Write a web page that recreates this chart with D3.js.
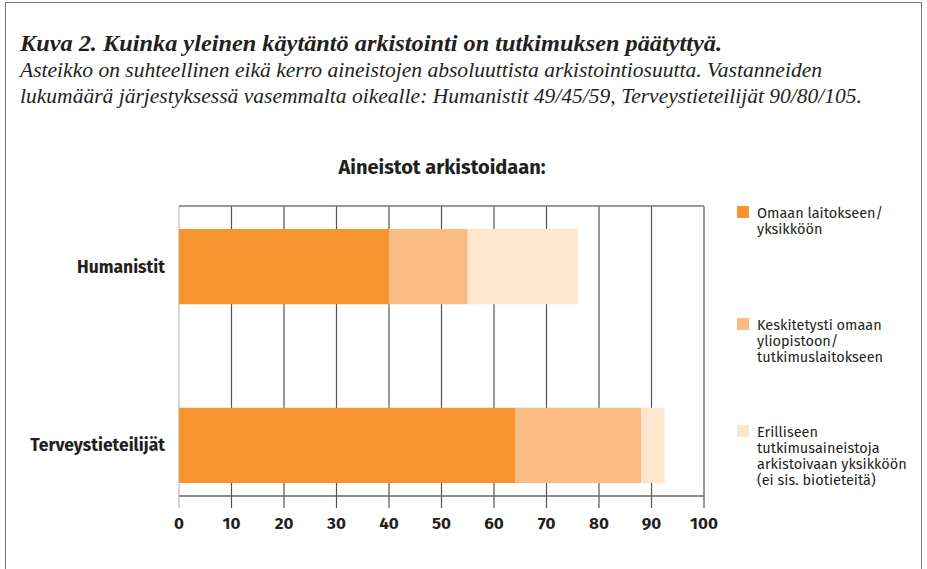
<!DOCTYPE html>
<html>
<head>
<meta charset="utf-8">
<script src="https://cdn.jsdelivr.net/npm/d3@7"></script>
<style>
  body { margin: 0; background: #fff; }
  svg { display: block; }
</style>
</head>
<body>
<div id="chart"></div>
<script>
// data (percent, stacked)
let groups = ['Humanistit', 'Terveystieteilijät'];
let omaan = [40, 64];
let keskitetysti = [15, 24];
let erilliseen = [21, 4.5];
let ticks = [0, 10, 20, 30, 40, 50, 60, 70, 80, 90, 100];

let legendLines = [
  ['Omaan laitokseen/', 'yksikköön'],
  ['Keskitetysti omaan', 'yliopistoon/', 'tutkimuslaitokseen'],
  ['Erilliseen', 'tutkimusaineistoja', 'arkistoivaan yksikköön', '(ei sis. biotieteitä)']
];

let colors = ['#f7942f', '#fabb82', '#fee6ce'];

let width = 927;
let height = 569;

let sans = "'Fira Sans', 'Noto Sans', sans-serif";
let serif = "'Liberation Serif', 'DejaVu Serif', serif";

let svg = d3.select('#chart').append('svg')
  .attr('width', width)
  .attr('height', height);

// outer frame
svg.append('path')
  .attr('d', 'M5.5,' + height + 'V2.5H921.5V' + height)
  .attr('fill', 'none')
  .attr('stroke', '#777')
  .attr('stroke-width', 1);

// headings
svg.append('text')
  .attr('x', 20).attr('y', 51)
  .attr('font-family', serif)
  .attr('font-style', 'italic')
  .attr('font-weight', 'bold')
  .attr('font-size', 23)
  .attr('textLength', 702)
  .attr('lengthAdjust', 'spacingAndGlyphs')
  .attr('fill', '#231f20')
  .text('Kuva 2. Kuinka yleinen käytäntö arkistointi on tutkimuksen päätyttyä.');

let sub = ['Asteikko on suhteellinen eikä kerro aineistojen absoluuttista arkistointiosuutta. Vastanneiden',
  'lukumäärä järjestyksessä vasemmalta oikealle: Humanistit 49/45/59, Terveystieteilijät 90/80/105.'];
let subLen = [802, 842];
svg.selectAll('.sub')
  .data(sub)
  .enter()
  .append('text')
  .attr('class', 'sub')
  .attr('x', 20)
  .attr('y', (d, i) => 77 + i * 26)
  .attr('font-family', serif)
  .attr('font-style', 'italic')
  .attr('font-size', 20.5)
  .attr('textLength', (d, i) => subLen[i])
  .attr('lengthAdjust', 'spacingAndGlyphs')
  .attr('fill', '#231f20')
  .text(d => d);

let x = d3.scaleLinear().domain([0, 100]).range([179, 704]);
let y = d3.scaleBand().domain(groups).range([229, 483]).paddingInner(0.579).paddingOuter(0);

let plotTop = 206;
let plotBottom = 496;

svg.append('text')
  .attr('x', 442).attr('y', 174)
  .attr('text-anchor', 'middle')
  .attr('font-family', sans)
  .attr('font-weight', 'bold')
  .attr('font-size', 20)
  .attr('fill', '#231f20')
  .text('Aineistot arkistoidaan:');

// vertical grid + ticks
svg.append('g')
  .selectAll('line')
  .data(ticks)
  .enter()
  .append('line')
  .attr('x1', d => x(d)).attr('x2', d => x(d))
  .attr('y1', plotTop).attr('y2', plotBottom + 12)
  .attr('stroke', d => d === 0 ? '#bbb' : '#555')
  .attr('stroke-width', 1.2);

// top border and axis line
svg.append('line')
  .attr('x1', x(0)).attr('x2', x(100))
  .attr('y1', plotTop).attr('y2', plotTop)
  .attr('stroke', '#777').attr('stroke-width', 1.5);
svg.append('line')
  .attr('x1', x(0)).attr('x2', x(100))
  .attr('y1', plotBottom).attr('y2', plotBottom)
  .attr('stroke', '#666').attr('stroke-width', 1.5);

// stacked bars
let rows = groups.map((g, i) => ({ group: g, s0: omaan[i], s1: keskitetysti[i], s2: erilliseen[i] }));
let stack = d3.stack().keys(['s0', 's1', 's2']);
let layers = stack(rows);

svg.append('g')
  .selectAll('g')
  .data(layers)
  .enter()
  .append('g')
  .attr('fill', (d, i) => colors[i])
  .selectAll('rect')
  .data(d => d)
  .enter()
  .append('rect')
  .attr('x', d => x(d[0]))
  .attr('width', d => x(d[1]) - x(d[0]))
  .attr('y', d => y(d.data.group))
  .attr('height', y.bandwidth());

// tick labels
svg.append('g')
  .selectAll('text')
  .data(ticks)
  .enter()
  .append('text')
  .attr('x', d => x(d))
  .attr('y', 529)
  .attr('text-anchor', 'middle')
  .attr('font-family', sans)
  .attr('font-weight', 'bold')
  .attr('font-size', 17)
  .attr('fill', '#231f20')
  .text(d => d);

// category labels
svg.append('g')
  .selectAll('text')
  .data(groups)
  .enter()
  .append('text')
  .attr('x', 165)
  .attr('y', d => y(d) + y.bandwidth() / 2 + 6)
  .attr('text-anchor', 'end')
  .attr('font-family', sans)
  .attr('font-weight', 'bold')
  .attr('font-size', 17.5)
  .attr('fill', '#231f20')
  .text(d => d);

// legend
let legendY = [206, 318, 425];
let legend = svg.append('g')
  .selectAll('g')
  .data(legendLines)
  .enter()
  .append('g')
  .attr('transform', (d, i) => 'translate(737,' + legendY[i] + ')');

legend.append('rect')
  .attr('width', 12).attr('height', 12)
  .attr('fill', (d, i) => colors[i]);

legend.selectAll('text')
  .data(d => d)
  .enter()
  .append('text')
  .attr('x', 20)
  .attr('y', (d, i) => 12 + i * 16)
  .attr('font-family', sans)
  .attr('font-size', 14.5)
  .attr('fill', '#231f20')
  .text(d => d);
</script>
</body>
</html>
